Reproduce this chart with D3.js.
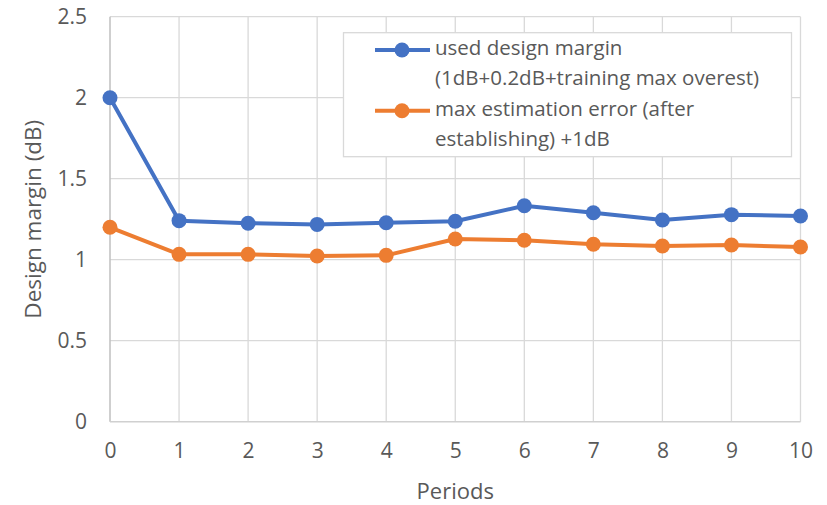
<!DOCTYPE html>
<html>
<head>
<meta charset="utf-8">
<script src="https://cdn.jsdelivr.net/npm/d3@7"></script>
<style>
  html, body { margin: 0; padding: 0; background: #fff; }
  svg { display: block; }
  text { font-family: "Open Sans", "Noto Sans", sans-serif; fill: #595959; }
</style>
</head>
<body>
<svg id="chart" width="827" height="505"></svg>
<script>
// Periods on the horizontal axis
const periods = [0, 1, 2, 3, 4, 5, 6, 7, 8, 9, 10];
// used design margin (1dB + 0.2dB + training max overestimation)
const usedMargin = [2.0, 1.241, 1.225, 1.218, 1.228, 1.237, 1.333, 1.29, 1.245, 1.278, 1.27];
// max estimation error after establishing, +1dB
const maxEstError = [1.2, 1.033, 1.033, 1.023, 1.027, 1.128, 1.12, 1.095, 1.085, 1.091, 1.078];
const yTicks = [0, 0.5, 1, 1.5, 2, 2.5];
const seriesNames = [
  ["used design margin", "(1dB+0.2dB+training max overest)"],
  ["max estimation error (after", "establishing) +1dB"]
];
const seriesColors = ["#4472C4", "#ED7D31"];

const svg = d3.select("#chart");
const plotLeft = 110, plotRight = 800.5, plotTop = 16.7, plotBottom = 421.7;

const x = d3.scaleLinear().domain([0, 10]).range([plotLeft, plotRight]);
const y = d3.scaleLinear().domain([0, 2.5]).range([plotBottom, plotTop]);

// Gridlines
svg.append("g").selectAll("line").data(yTicks.filter(d => d > 0)).join("line")
  .attr("x1", plotLeft).attr("x2", plotRight)
  .attr("y1", d => y(d)).attr("y2", d => y(d))
  .attr("stroke", "#d9d9d9").attr("stroke-width", 1.3);
svg.append("g").selectAll("line").data(periods.filter(d => d > 0)).join("line")
  .attr("x1", d => x(d)).attr("x2", d => x(d))
  .attr("y1", plotTop).attr("y2", plotBottom)
  .attr("stroke", "#d9d9d9").attr("stroke-width", 1.3);

// Axis lines
svg.append("line").attr("x1", plotLeft).attr("x2", plotLeft).attr("y1", plotTop).attr("y2", plotBottom)
  .attr("stroke", "#bfbfbf").attr("stroke-width", 1.5);
svg.append("line").attr("x1", plotLeft).attr("x2", plotRight).attr("y1", plotBottom).attr("y2", plotBottom)
  .attr("stroke", "#d0d0d0").attr("stroke-width", 1.5);

// Y tick labels
const yAxis = d3.axisLeft(y).tickValues(yTicks).tickSize(0).tickPadding(23)
  .tickFormat(d => String(d));
const gy = svg.append("g").attr("transform", `translate(${plotLeft},0)`).call(yAxis);
gy.select(".domain").remove();
gy.selectAll("text").style("font-size", "21px").attr("fill", "#595959")
  .style("font-family", '"Open Sans", sans-serif');

// X tick labels
const xAxis = d3.axisBottom(x).tickValues(periods).tickSize(0).tickPadding(0)
  .tickFormat(d => String(d));
const gx = svg.append("g").attr("transform", `translate(0,${plotBottom})`).call(xAxis);
gx.select(".domain").remove();
gx.selectAll("text").attr("y", 31).attr("dy", null).attr("dominant-baseline", "middle")
  .style("font-size", "21px").attr("fill", "#595959")
  .style("font-family", '"Open Sans", sans-serif');

// Axis titles
svg.append("text").attr("x", (plotLeft + plotRight) / 2).attr("y", 493)
  .attr("text-anchor", "middle").attr("dominant-baseline", "middle")
  .style("font-size", "22px").text("Periods");
svg.append("text")
  .attr("transform", `translate(35,${(plotTop + plotBottom) / 2}) rotate(-90)`)
  .attr("text-anchor", "middle").attr("dominant-baseline", "middle")
  .style("font-size", "22.5px").text("Design margin (dB)");

// Series
const series = [usedMargin, maxEstError];
const line = d3.line().x((d, i) => x(periods[i])).y(d => y(d));
series.forEach((vals, s) => {
  const g = svg.append("g");
  g.append("path").datum(vals).attr("d", line)
    .attr("fill", "none").attr("stroke", seriesColors[s])
    .attr("stroke-width", 4).attr("stroke-linejoin", "round");
  g.selectAll("circle").data(vals).join("circle")
    .attr("cx", (d, i) => x(periods[i])).attr("cy", d => y(d))
    .attr("r", 7.5).attr("fill", seriesColors[s]);
});

// Legend
const lg = svg.append("g");
lg.append("rect").attr("x", 343.5).attr("y", 32.7).attr("width", 448).attr("height", 124)
  .attr("fill", "#fff").attr("stroke", "#d9d9d9").attr("stroke-width", 1.3);
const legendRows = [50, 110.7];
seriesNames.forEach((lines, s) => {
  const cy = legendRows[s];
  lg.append("line").attr("x1", 375).attr("x2", 430).attr("y1", cy).attr("y2", cy)
    .attr("stroke", seriesColors[s]).attr("stroke-width", 4);
  lg.append("circle").attr("cx", 402).attr("cy", cy).attr("r", 7.5).attr("fill", seriesColors[s]);
  lines.forEach((t, k) => {
    lg.append("text").attr("x", 435).attr("y", cy + k * 29.5)
      .attr("dominant-baseline", "middle").style("font-size", "20.5px").text(t);
  });
});
</script>
</body>
</html>
